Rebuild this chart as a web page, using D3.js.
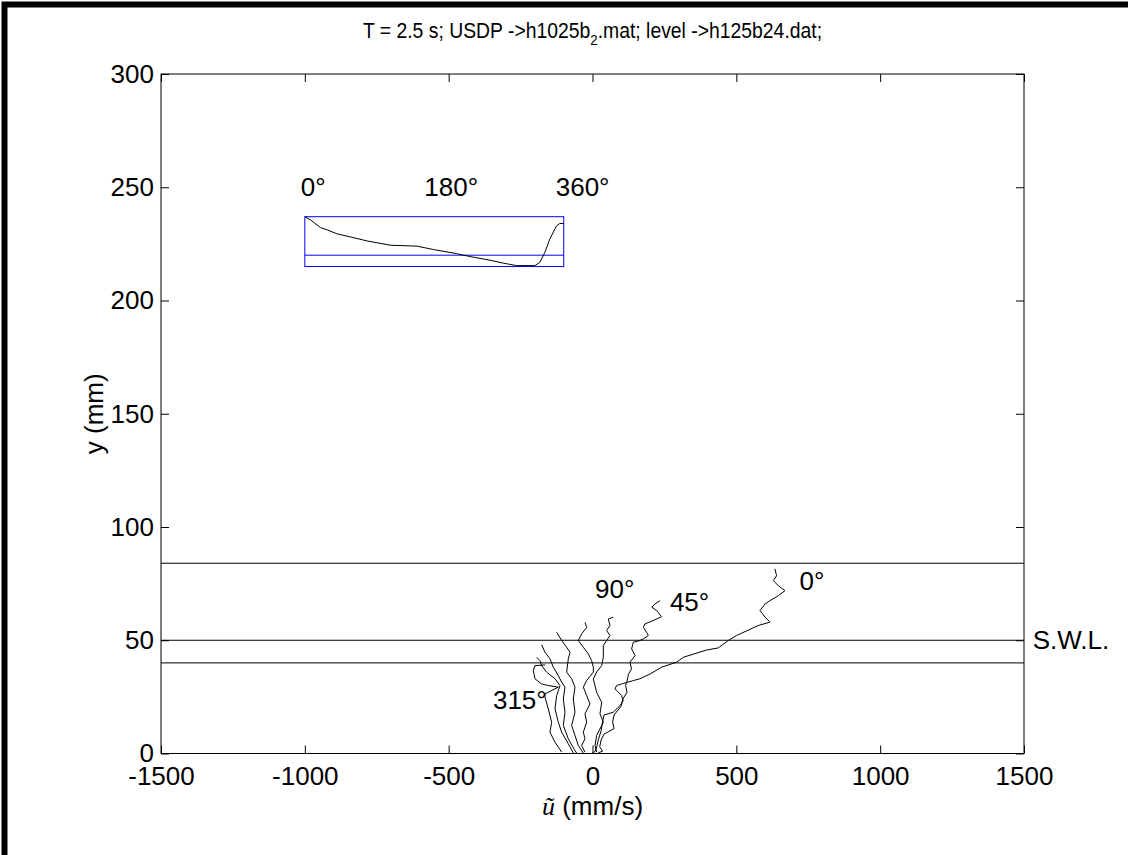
<!DOCTYPE html>
<html>
<head>
<meta charset="utf-8">
<script src="https://cdn.jsdelivr.net/npm/d3@7"></script>
<style>
  body { margin: 0; background: #fff; }
  svg { display: block; font-family: "Liberation Sans", Arial, sans-serif; }
</style>
</head>
<body>
<div id="chart"></div>
<script>
// tick values
const xTicks = [-1500, -1000, -500, 0, 500, 1000, 1500];
const yTicks = [0, 50, 100, 150, 200, 250, 300];

// water levels (mm): crest, S.W.L., trough
const levelLines = [84, 50, 40];

// velocity profiles [u (mm/s), y (mm)] for each phase
const prof0 = [[0,0.2],[10,1],[15,3],[20,6],[30,10],[35,14],[40,17],[72,18.2],[96,21.2],[107,23.4],[101,25.6],[90,27.1],[78,28.5],[84,30],[101,30.7],[142,32.2],[165,33],[200,35.1],[240,38.1],[292,40.3],[316,42.5],[397,45.7],[437,46.6],[472,49.9],[501,52.1],[576,56.5],[617,58],[600,60.2],[582,63.1],[600,66],[617,67.5],[646,69.7],[669,71.9],[646,74.1],[629,76.3],[640,78.5],[634,81.5]];
const prof45 = [[20,0.3],[35,1],[25,3],[30,6],[40,8.5],[75,11],[70,14],[75,17],[100,21],[105,24],[120,27],[115,30],[120,32],[125,35],[136,37.4],[130,40.3],[148,43.2],[136,46.2],[142,49.1],[165,49.9],[177,50.6],[194,52.1],[188,53.5],[177,55.7],[182,57.2],[211,58.7],[240,60.4],[223,63.1],[206,64.6],[217,66],[235,67.5]];
const prof90 = [[14.5,0.6],[8.7,3.5],[14.5,8],[37.7,13.8],[26,17.5],[31.9,22.6],[14.5,27],[2.9,32.9],[14.5,36],[31.9,38.8],[37.6,42.5],[37.6,47.7],[49.2,49.9],[60.8,52.1],[49.2,54.3],[60.8,56.5],[55,59.4],[72.4,60.2]];
const prof135 = [[-26.1,0.6],[-37.7,3.5],[-26.1,6.5],[-31.9,9.4],[-20.3,13.8],[-26.1,17.5],[-8.7,21.9],[-20.3,25.6],[-31.9,29.3],[-20.3,32.2],[2.9,35.9],[2.9,38.1],[-3,41],[-14.5,44],[-31.9,46.9],[-49.3,49.9],[-37.7,52.8],[-20.3,55.7],[-26,57.9]];
const prof180 = [[-31.9,0.2],[-49.3,3.5],[-60.9,8],[-72.5,12.4],[-60.9,18.2],[-66.7,24.1],[-60.9,29.3],[-72.5,33],[-89.9,35.9],[-84.1,41.8],[-78.3,44.7],[-89.9,46.9],[-107.2,49.9],[-124.6,53.5]];
const prof225 = [[-55,0.2],[-61,1.3],[-84.1,6.5],[-101.5,12.4],[-95.7,18.2],[-101.5,24.1],[-95.7,29.3],[-107.2,31.5],[-118.8,34.4],[-136.2,38.1],[-147.8,41.8],[-165.2,44.7],[-176.8,48]];
const prof270 = [[-66.7,0.2],[-84.1,4.3],[-107.2,9.4],[-118.8,13.8],[-130.4,19.7],[-124.6,25.6],[-113,30],[-130.4,33],[-159.4,35.9],[-176.8,38.8],[-182.6,41],[-194,42.5]];
const prof315 = [[-107.2,0.6],[-130.4,5],[-147.8,9.4],[-142,13.8],[-153.6,19.7],[-165.2,24.9],[-165.2,26.3],[-118.8,29.3],[-153.6,30],[-176.8,30.7],[-200,33],[-205.7,36.6],[-200,38.8],[-165.2,39.1]];
const profiles = [prof0, prof45, prof90, prof135, prof180, prof225, prof270, prof315];

// phase labels next to the profiles
const phaseLabels = ["0°", "45°", "90°", "315°"];
const phaseLabelU = [720, 269, 9, -346];
const phaseLabelY = [76, 67, 72.6, 23.5];

// inset: water level (mm) over one wave period (phase in degrees)
const insetPhase = [0, 7.9, 21.8, 31, 45, 63, 86.5, 118.8, 155.8, 178.9, 211, 229.7, 257.4, 275.9, 294.4, 319.8, 326.7, 333.7, 340.6, 349.9, 354.5, 360];
const insetLevel = [84, 81.2, 74.4, 72.4, 68.8, 66.2, 62.6, 58.8, 58, 55, 51.4, 48.8, 45.6, 43, 40.8, 40.8, 43.6, 52.4, 64.2, 75.8, 78, 78];
const insetTickLabels = ["0°", "180°", "360°"];
const insetTickPhase = [0, 180, 360];

const width = 1128, height = 855;
const margin = { top: 74, right: 104, bottom: 101.5, left: 161 };

const svg = d3.select("#chart").append("svg")
  .attr("width", width)
  .attr("height", height);

const x = d3.scaleLinear().domain([-1500, 1500]).range([margin.left, width - margin.right]);
const y = d3.scaleLinear().domain([0, 300]).range([height - margin.bottom, margin.top]);

// figure frame (thick border on top and left)
svg.append("path")
  .attr("d", `M4.5,${height} V4.5 H${width}`)
  .attr("fill", "none")
  .attr("stroke", "#000")
  .attr("stroke-width", 6);

// axes, ticks inside as in matlab
const plain = (d) => d.toString();
function styleAxis(g) {
  g.select(".domain").remove();
  g.attr("font-size", 26).attr("font-family", '"Liberation Sans", Arial, sans-serif');
  g.selectAll("text").attr("fill", "#000");
}
svg.append("g")
  .attr("transform", `translate(0,${y(0)})`)
  .call(d3.axisBottom(x).tickValues(xTicks).tickFormat(plain).tickSize(-8).tickSizeOuter(0).tickPadding(13))
  .call(styleAxis);
svg.append("g")
  .attr("transform", `translate(0,${y(300)})`)
  .call(d3.axisTop(x).tickValues(xTicks).tickSize(-8).tickSizeOuter(0).tickFormat(""))
  .call(styleAxis);
svg.append("g")
  .attr("transform", `translate(${x(-1500)},0)`)
  .call(d3.axisLeft(y).tickValues(yTicks).tickFormat(plain).tickSize(-8).tickSizeOuter(0).tickPadding(7))
  .call(styleAxis);
svg.append("g")
  .attr("transform", `translate(${x(1500)},0)`)
  .call(d3.axisRight(y).tickValues(yTicks).tickSize(-8).tickSizeOuter(0).tickFormat(""))
  .call(styleAxis);

svg.append("rect")
  .attr("x", x(-1500))
  .attr("y", y(300))
  .attr("width", x(1500) - x(-1500))
  .attr("height", y(0) - y(300))
  .attr("fill", "none")
  .attr("stroke", "#000");

// water level lines
svg.selectAll(".level")
  .data(levelLines)
  .join("line")
  .attr("x1", x(-1500))
  .attr("x2", x(1500))
  .attr("y1", (d) => y(d))
  .attr("y2", (d) => y(d))
  .attr("stroke", "#000");

svg.append("text")
  .attr("x", x(1530))
  .attr("y", y(50))
  .attr("dy", "0.35em")
  .attr("font-size", 26)
  .text("S.W.L.");

// profiles
const line = d3.line()
  .x((d) => x(d[0]))
  .y((d) => y(d[1]));
svg.selectAll(".profile")
  .data(profiles)
  .join("path")
  .attr("d", line)
  .attr("fill", "none")
  .attr("stroke", "#000")
  .attr("stroke-width", 1);

svg.selectAll(".phaseLabel")
  .data(phaseLabels)
  .join("text")
  .attr("x", (d, i) => x(phaseLabelU[i]))
  .attr("y", (d, i) => y(phaseLabelY[i]))
  .attr("dy", "0.35em")
  .attr("font-size", 26)
  .text((d) => d);

// inset with the water level over one period
const px = d3.scaleLinear().domain([0, 360]).range([x(-1000), x(-100)]);
const ly = d3.scaleLinear().domain([40, 84]).range([y(215), y(237)]);

svg.append("rect")
  .attr("x", px(0))
  .attr("y", ly(84))
  .attr("width", px(360) - px(0))
  .attr("height", ly(40) - ly(84))
  .attr("fill", "none")
  .attr("stroke", "#0000ff");
svg.append("line")
  .attr("x1", px(0))
  .attr("x2", px(360))
  .attr("y1", ly(50))
  .attr("y2", ly(50))
  .attr("stroke", "#0000ff");
svg.append("path")
  .datum(insetPhase.map((p, i) => [p, insetLevel[i]]))
  .attr("d", d3.line().x((d) => px(d[0])).y((d) => ly(d[1])))
  .attr("fill", "none")
  .attr("stroke", "#000");

svg.selectAll(".insetLabel")
  .data(insetTickLabels)
  .join("text")
  .attr("x", (d, i) => px(insetTickPhase[i]) + [-4, -10, -8][i])
  .attr("y", y(250))
  .attr("dy", "0.35em")
  .attr("font-size", 26)
  .text((d) => d);

// title with subscript (slightly condensed, like the original)
const title = svg.append("text")
  .attr("transform", `translate(${x(0)},38) scale(0.88,1)`)
  .attr("text-anchor", "middle")
  .attr("font-size", 22);
title.append("tspan").text("T = 2.5 s; USDP ->h1025b");
title.append("tspan").attr("font-size", 15).attr("dy", 7).text("2");
title.append("tspan").attr("dy", -7).text(".mat; level ->h125b24.dat;");

// axis labels
const xl = svg.append("text")
  .attr("x", x(0))
  .attr("y", 815)
  .attr("text-anchor", "middle")
  .attr("font-size", 26);
xl.append("tspan")
  .attr("font-family", '"Liberation Serif", "Times New Roman", serif')
  .attr("font-style", "italic")
  .text("ũ");
xl.append("tspan").text(" (mm/s)");

svg.append("text")
  .attr("transform", `translate(103,${(y(0) + y(300)) / 2}) rotate(-90)`)
  .attr("text-anchor", "middle")
  .attr("font-size", 26)
  .text("y (mm)");
</script>
</body>
</html>
